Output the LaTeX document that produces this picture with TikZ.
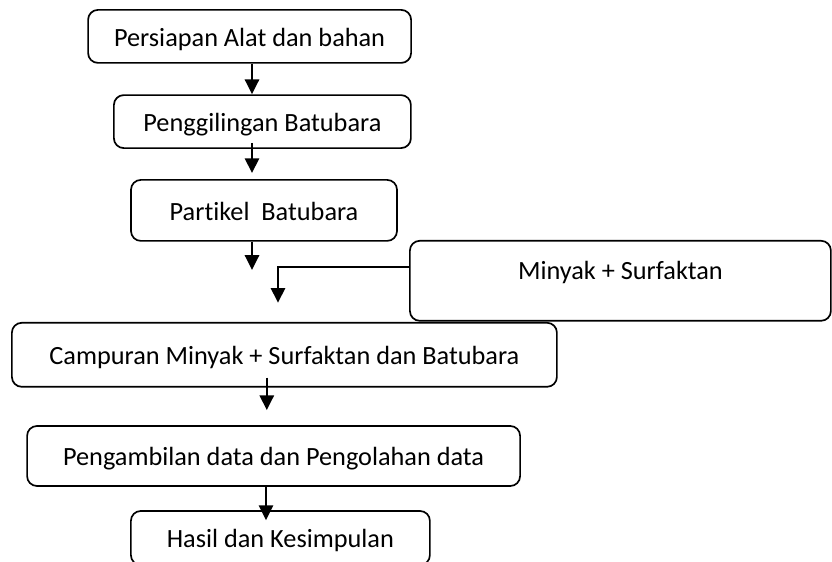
\documentclass[tikz,border=0pt]{standalone}
\usepackage{fontspec}
\setmainfont{Carlito}[Ligatures=CommonOff]
\usepackage{tikz}
\usetikzlibrary{arrows.meta}

\tikzset{
  box/.style={draw, line width=1.2pt, rounded corners=7pt, align=center,
    font=\fontsize{18.7}{22}\selectfont, text height=16pt, text depth=2pt},
  arr/.style={line width=1.8pt, -{Triangle[length=10.5pt, width=10pt]}}
}

\begin{document}
\begin{tikzpicture}[scale=1.0]
  \useasboundingbox (0,0) rectangle (20.8,14.05);

  % steps
  \node[box, minimum width=8.075cm, minimum height=1.325cm] (persiapan) at (6.24,13.14) {Persiapan Alat dan bahan};
  \node[box, minimum width=7.425cm, minimum height=1.325cm] (penggilingan) at (6.56,11.01) {Penggilingan Batubara};
  \node[box, minimum width=6.65cm, minimum height=1.525cm] (partikel) at (6.60,8.79) {Partikel\ \ Batubara};
  \node[box, minimum width=10.525cm, minimum height=2.0cm, text height=12pt, text depth=13.4pt] (minyak) at (15.51,7.03) {Minyak + Surfaktan};
  \node[box, minimum width=13.625cm, minimum height=1.6cm] (campuran) at (7.11,5.18) {Campuran Minyak + Surfaktan dan Batubara};
  \node[box, minimum width=12.325cm, minimum height=1.5cm] (pengambilan) at (6.84,2.65) {Pengambilan data dan Pengolahan data};
  \node[box, minimum width=7.475cm, minimum height=1.35cm] (hasil) at (7.01,0.60) {Hasil dan Kesimpulan};

  % free arrow ends
  \coordinate (partikelend) at (6.30,7.30);
  \coordinate (minyakend) at (6.95,6.48);

  % arrows
  \draw[arr] (persiapan.south -| partikelend) -- (penggilingan.north -| partikelend);
  \draw[arr, shorten <=-0.15cm, shorten >=0.15cm] (penggilingan.south -| partikelend) -- (partikel.north -| partikelend);
  \draw[arr] (partikel.south -| partikelend) -- (partikelend);
  \draw[arr] ([yshift=0.35cm]minyak.west) -| (minyakend);
  \draw[arr, shorten <=-0.25cm, shorten >=0.375cm] ([xshift=-0.44cm]campuran.south) -- ([xshift=-0.44cm]campuran.south |- pengambilan.north);
  \draw[arr, shorten >=-0.25cm] ([xshift=-0.19cm]pengambilan.south) -- ([xshift=-0.19cm]pengambilan.south |- hasil.north);
\end{tikzpicture}
\end{document}
